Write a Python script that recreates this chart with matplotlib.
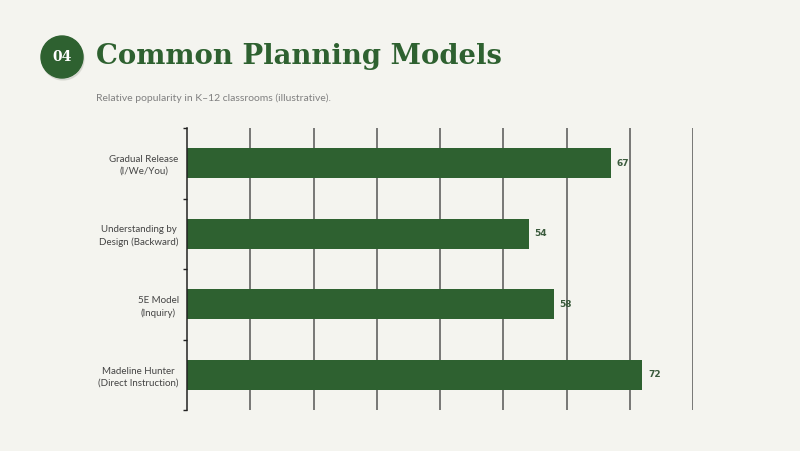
import matplotlib.pyplot as plt
from matplotlib.patches import Circle

models = ["Gradual Release\n(I/We/You)", "Understanding by\nDesign (Backward)",
          "5E Model\n(Inquiry)", "Madeline Hunter\n(Direct Instruction)"]
popularity = [67, 54, 58, 72]
grid_ticks = [10, 20, 30, 40, 50, 60, 70, 80]

bg = "#F4F4EF"
green = "#2E6130"

fig = plt.figure(figsize=(8, 4.51), dpi=100, facecolor=bg)

# header badge + title
badge_ax = fig.add_axes([0, 0, 1, 1], facecolor="none")
badge_ax.set_xlim(0, 800)
badge_ax.set_ylim(451, 0)
badge_ax.axis("off")
badge_ax.add_patch(Circle((63, 59), 21, color="#C8CAC2", alpha=0.5, zorder=1))
badge_ax.add_patch(Circle((62, 57), 21, color=green, zorder=2))
badge_ax.text(62, 57, "04", color="white", fontsize=10, fontweight="bold",
              family="DejaVu Serif", ha="center", va="center", zorder=3)
badge_ax.text(96, 56, "Common Planning Models", color=green, fontsize=19.8,
              fontweight="bold", family="DejaVu Serif", va="center")
badge_ax.text(96, 98, "Relative popularity in K\u201312 classrooms (illustrative).",
              color="#808080", fontsize=7.5, family="Lato", va="center")

ax = fig.add_axes([187 / 800, 1 - 410 / 451, 506 / 800, 282 / 451], facecolor="none")
ypos = list(range(len(models)))
ax.barh(ypos, popularity, height=0.42, color=green, zorder=2)
for y, v in zip(ypos, popularity):
    ax.text(v + 0.9, y, str(v), va="center", ha="left", fontsize=6.5,
            fontweight="bold", color="#3A5A3C", family="DejaVu Sans")

ax.set_xlim(0, 80)
ax.set_ylim(len(models) - 0.5, -0.5)
for g in grid_ticks:
    ax.axvline(g, color="#555555", lw=1.1, zorder=1)

ax.set_yticks(ypos)
ax.set_yticklabels(models, fontsize=7, color="#444444", family="Lato",
                   linespacing=1.4, multialignment="center")
ax.tick_params(axis="y", which="major", length=0, pad=6)
ax.set_yticks([-0.5, 0.5, 1.5, 2.5, 3.5], minor=True)
ax.tick_params(axis="y", which="minor", length=3, width=1, color="#222222")
ax.set_xticks([])
for side in ["top", "right", "bottom"]:
    ax.spines[side].set_visible(False)
ax.spines["left"].set_color("#222222")
ax.spines["left"].set_linewidth(1.1)

fig.savefig("out.png", dpi=100, facecolor=bg)
